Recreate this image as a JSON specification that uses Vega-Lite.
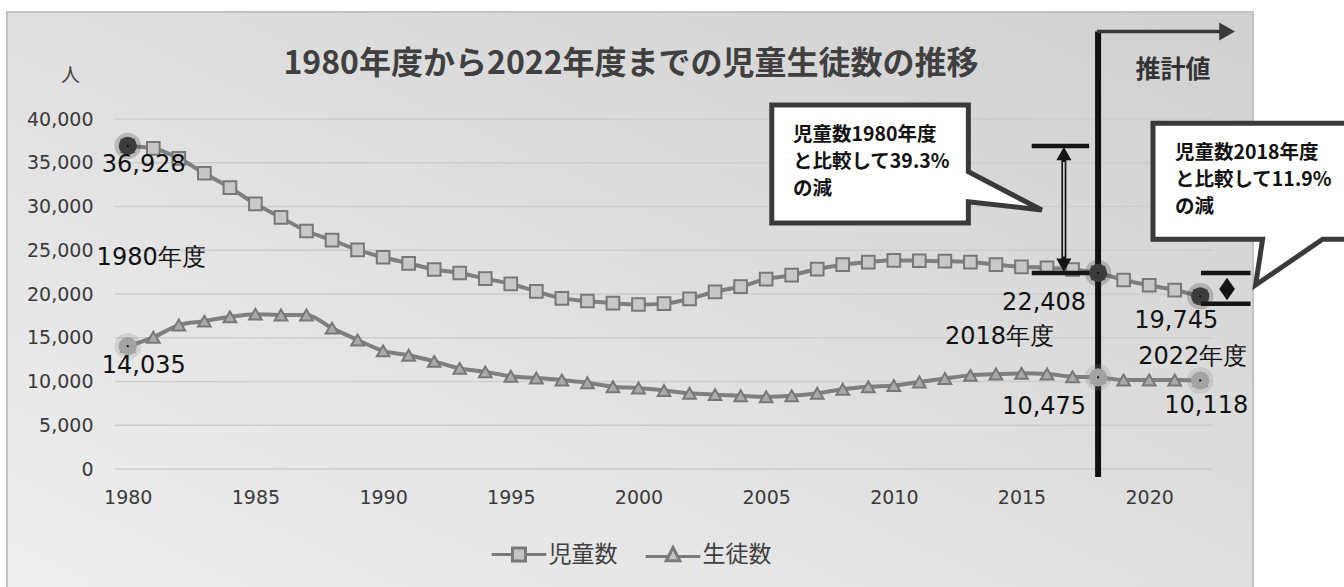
{
  "$schema": "https://vega.github.io/schema/vega-lite/v6.json",
  "autosize": {"type": "none"},
  "padding": {"left": 115, "top": 119, "right": 131, "bottom": 118},
  "width": 1098,
  "height": 350,
  "background": "#ffffff",
  "title": {
    "text": "1980年度から2022年度までの児童生徒数の推移",
    "font": "Noto Sans CJK JP",
    "fontSize": 32,
    "fontWeight": "bold",
    "color": "#404040",
    "anchor": "middle",
    "frame": "group",
    "dx": -33,
    "offset": -70
  },
  "datasets": {
    "counts": [
      {"series": "児童数", "year": 1980, "value": 36928},
      {"series": "児童数", "year": 1981, "value": 36650},
      {"series": "児童数", "year": 1982, "value": 35500},
      {"series": "児童数", "year": 1983, "value": 33800},
      {"series": "児童数", "year": 1984, "value": 32150},
      {"series": "児童数", "year": 1985, "value": 30300},
      {"series": "児童数", "year": 1986, "value": 28750},
      {"series": "児童数", "year": 1987, "value": 27200},
      {"series": "児童数", "year": 1988, "value": 26150},
      {"series": "児童数", "year": 1989, "value": 25050},
      {"series": "児童数", "year": 1990, "value": 24200},
      {"series": "児童数", "year": 1991, "value": 23500},
      {"series": "児童数", "year": 1992, "value": 22800},
      {"series": "児童数", "year": 1993, "value": 22400},
      {"series": "児童数", "year": 1994, "value": 21750},
      {"series": "児童数", "year": 1995, "value": 21150},
      {"series": "児童数", "year": 1996, "value": 20300},
      {"series": "児童数", "year": 1997, "value": 19500},
      {"series": "児童数", "year": 1998, "value": 19200},
      {"series": "児童数", "year": 1999, "value": 18950},
      {"series": "児童数", "year": 2000, "value": 18800},
      {"series": "児童数", "year": 2001, "value": 18900},
      {"series": "児童数", "year": 2002, "value": 19450},
      {"series": "児童数", "year": 2003, "value": 20250},
      {"series": "児童数", "year": 2004, "value": 20850},
      {"series": "児童数", "year": 2005, "value": 21700},
      {"series": "児童数", "year": 2006, "value": 22150},
      {"series": "児童数", "year": 2007, "value": 22850},
      {"series": "児童数", "year": 2008, "value": 23350},
      {"series": "児童数", "year": 2009, "value": 23650},
      {"series": "児童数", "year": 2010, "value": 23850},
      {"series": "児童数", "year": 2011, "value": 23800},
      {"series": "児童数", "year": 2012, "value": 23750},
      {"series": "児童数", "year": 2013, "value": 23650},
      {"series": "児童数", "year": 2014, "value": 23350},
      {"series": "児童数", "year": 2015, "value": 23100},
      {"series": "児童数", "year": 2016, "value": 23000},
      {"series": "児童数", "year": 2017, "value": 22800},
      {"series": "児童数", "year": 2018, "value": 22408},
      {"series": "児童数", "year": 2019, "value": 21600},
      {"series": "児童数", "year": 2020, "value": 21000},
      {"series": "児童数", "year": 2021, "value": 20450},
      {"series": "児童数", "year": 2022, "value": 19745},
      {"series": "生徒数", "year": 1980, "value": 14035},
      {"series": "生徒数", "year": 1981, "value": 15050},
      {"series": "生徒数", "year": 1982, "value": 16450},
      {"series": "生徒数", "year": 1983, "value": 16900},
      {"series": "生徒数", "year": 1984, "value": 17400},
      {"series": "生徒数", "year": 1985, "value": 17700},
      {"series": "生徒数", "year": 1986, "value": 17600},
      {"series": "生徒数", "year": 1987, "value": 17600},
      {"series": "生徒数", "year": 1988, "value": 16100},
      {"series": "生徒数", "year": 1989, "value": 14750},
      {"series": "生徒数", "year": 1990, "value": 13500},
      {"series": "生徒数", "year": 1991, "value": 13000},
      {"series": "生徒数", "year": 1992, "value": 12300},
      {"series": "生徒数", "year": 1993, "value": 11500},
      {"series": "生徒数", "year": 1994, "value": 11100},
      {"series": "生徒数", "year": 1995, "value": 10600},
      {"series": "生徒数", "year": 1996, "value": 10400},
      {"series": "生徒数", "year": 1997, "value": 10170},
      {"series": "生徒数", "year": 1998, "value": 9850},
      {"series": "生徒数", "year": 1999, "value": 9400},
      {"series": "生徒数", "year": 2000, "value": 9250},
      {"series": "生徒数", "year": 2001, "value": 8980},
      {"series": "生徒数", "year": 2002, "value": 8650},
      {"series": "生徒数", "year": 2003, "value": 8500},
      {"series": "生徒数", "year": 2004, "value": 8380},
      {"series": "生徒数", "year": 2005, "value": 8250},
      {"series": "生徒数", "year": 2006, "value": 8360},
      {"series": "生徒数", "year": 2007, "value": 8650},
      {"series": "生徒数", "year": 2008, "value": 9120},
      {"series": "生徒数", "year": 2009, "value": 9400},
      {"series": "生徒数", "year": 2010, "value": 9550},
      {"series": "生徒数", "year": 2011, "value": 9950},
      {"series": "生徒数", "year": 2012, "value": 10350},
      {"series": "生徒数", "year": 2013, "value": 10700},
      {"series": "生徒数", "year": 2014, "value": 10850},
      {"series": "生徒数", "year": 2015, "value": 10930},
      {"series": "生徒数", "year": 2016, "value": 10850},
      {"series": "生徒数", "year": 2017, "value": 10550},
      {"series": "生徒数", "year": 2018, "value": 10475},
      {"series": "生徒数", "year": 2019, "value": 10170},
      {"series": "生徒数", "year": 2020, "value": 10170},
      {"series": "生徒数", "year": 2021, "value": 10170},
      {"series": "生徒数", "year": 2022, "value": 10118}
    ],
    "levels": [
      {"value": 0}, {"value": 5000}, {"value": 10000}, {"value": 15000}, {"value": 20000},
      {"value": 25000}, {"value": 30000}, {"value": 35000}, {"value": 40000}
    ],
    "notes": [
      {"kind": "callout", "text": "児童数1980年度\nと比較して39.3%\nの減", "year": 2006.05, "value": 38171},
      {"kind": "callout", "text": "児童数2018年度\nと比較して11.9%\nの減", "year": 2021.01, "value": 36080},
      {"kind": "label", "text": "1980年度", "year": 1978.78, "value": 24114},
      {"kind": "label", "text": "2018年度", "year": 2012.0, "value": 15051},
      {"kind": "label", "text": "2022年度", "year": 2019.57, "value": 12766},
      {"kind": "est", "text": "推計値", "year": 2020.93, "value": 45600}
    ],
    "guides": [
      {"part": "frame", "year": 1975.27, "year2": 2024.07, "value": 52229, "value2": -14000},
      {"part": "divider", "year": 2018, "value": -900, "value2": 50000},
      {"part": "arrow", "year": 2017.95, "year2": 2022.85, "value": 50000},
      {"part": "head", "year": 2023.05, "value": 50000},
      {"part": "bar", "year": 2015.4, "year2": 2017.65, "value": 36928},
      {"part": "bar", "year": 2015.4, "year2": 2017.65, "value": 22408},
      {"part": "bar", "year": 2022.03, "year2": 2023.97, "value": 22408},
      {"part": "bar", "year": 2022.03, "year2": 2023.97, "value": 18900},
      {"part": "span", "year": 2016.66, "value": 23800, "value2": 35600},
      {"part": "gap", "year": 2016.66, "value": 24300, "value2": 35100},
      {"part": "up", "year": 2016.66, "value": 36050},
      {"part": "down", "year": 2016.66, "value": 23300},
      {"part": "diamond", "year": 2023.05, "value": 20570},
      {"part": "box1", "year": 2009.07, "value": 34857},
      {"part": "box2", "year": 2024.0, "value": 32880}
    ]
  },
  "layer": [
    {
      "data": {"name": "guides"},
      "transform": [{"filter": "datum.part === 'frame'"}],
      "mark": {
        "type": "rect",
        "fill": {
          "gradient": "linear",
          "x1": 0, "y1": 1, "x2": 1, "y2": 0,
          "stops": [
            {"offset": 0, "color": "#efefef"},
            {"offset": 1, "color": "#d0d0d0"}
          ]
        },
        "stroke": "#c2c2c2",
        "strokeWidth": 2
      },
      "encoding": {
        "x": {"field": "year", "type": "quantitative", "scale": {"domain": [1979.5, 2022.5], "nice": false, "zero": false}},
        "x2": {"field": "year2"},
        "y": {"field": "value", "type": "quantitative", "scale": {"domain": [0, 40000], "nice": false}},
        "y2": {"field": "value2"}
      }
    },
    {
      "data": {"name": "levels"},
      "mark": {"type": "rule", "color": "#cdcdcd", "strokeWidth": 1.5},
      "encoding": {
        "y": {"field": "value", "type": "quantitative", "scale": {"domain": [0, 40000], "nice": false}}
      }
    },
    {
      "data": {"name": "counts"},
      "encoding": {
        "x": {
          "field": "year",
          "type": "quantitative",
          "scale": {"domain": [1979.5, 2022.5], "nice": false, "zero": false},
          "axis": {
            "values": [1980, 1985, 1990, 1995, 2000, 2005, 2010, 2015, 2020],
            "format": "d",
            "title": null,
            "domain": false,
            "ticks": false,
            "grid": false,
            "labelPadding": 19,
            "zindex": 1
          }
        },
        "y": {
          "field": "value",
          "type": "quantitative",
          "scale": {"domain": [0, 40000], "nice": false},
          "axis": {
            "values": [0, 5000, 10000, 15000, 20000, 25000, 30000, 35000, 40000],
            "format": ",d",
            "title": "人",
            "titleAngle": 0,
            "titleX": -45,
            "titleY": -44,
            "titleAlign": "center",
            "titleBaseline": "middle",
            "titleFont": "Noto Sans CJK JP",
            "titleFontSize": 19,
            "titleFontWeight": "normal",
            "titleColor": "#404040",
            "domain": false,
            "ticks": false,
            "grid": false,
            "labelPadding": 22,
            "zindex": 1
          }
        }
      },
      "layer": [
        {
          "data": {"name": "guides"},
          "transform": [{"filter": "datum.part === 'divider'"}],
          "mark": {"type": "rule", "color": "#111111", "strokeWidth": 6},
          "encoding": {"y2": {"field": "value2"}}
        },
        {
          "data": {"name": "guides"},
          "transform": [{"filter": "datum.part === 'arrow'"}],
          "mark": {"type": "rule", "color": "#3a3a3a", "strokeWidth": 3.5},
          "encoding": {"x2": {"field": "year2"}}
        },
        {
          "data": {"name": "guides"},
          "transform": [{"filter": "datum.part === 'head'"}],
          "mark": {"type": "point", "shape": "triangle-right", "size": 330, "filled": true, "color": "#3a3a3a", "opacity": 1}
        },
        {
          "mark": {"type": "line", "interpolate": "monotone", "color": "#7f7f7f", "strokeWidth": 4},
          "encoding": {"detail": {"field": "series"}}
        },
        {
          "transform": [{"filter": "datum.series === '児童数'"}],
          "mark": {"type": "point", "shape": "square", "size": 160, "filled": true, "fill": "#c8c8c8", "stroke": "#787878", "strokeWidth": 2, "opacity": 1}
        },
        {
          "transform": [{"filter": "datum.series === '生徒数'"}],
          "mark": {"type": "point", "shape": "triangle-up", "size": 160, "filled": true, "fill": "#a9a9a9", "stroke": "#787878", "strokeWidth": 2, "opacity": 1}
        },
        {
          "transform": [{"filter": "datum.year === 1980 || datum.year === 2018 || datum.year === 2022"}],
          "mark": {"type": "point", "shape": "circle", "size": 700, "filled": true, "opacity": 0.22},
          "encoding": {
            "fill": {"condition": {"test": "datum.series === '児童数'", "value": "#2a2a2a"}, "value": "#8a8a8a"}
          }
        },
        {
          "transform": [{"filter": "datum.year === 1980 || datum.year === 2018 || datum.year === 2022"}],
          "mark": {"type": "point", "shape": "circle", "size": 330, "filled": true, "opacity": 1},
          "encoding": {
            "fill": {"condition": {"test": "datum.series === '児童数'", "value": "#3c3c3c"}, "value": "#a3a3a3"}
          }
        },
        {
          "transform": [{"filter": "datum.year === 1980 || datum.year === 2018 || datum.year === 2022"}],
          "mark": {"type": "point", "shape": "circle", "size": 5, "filled": true, "color": "#111111", "opacity": 1}
        },
        {
          "transform": [{"filter": "datum.year === 1980"}],
          "mark": {"type": "text", "font": "DejaVu Sans", "fontSize": 24, "color": "#111111", "align": "center", "baseline": "middle", "dx": 16, "dy": 19.5},
          "encoding": {"text": {"field": "value", "type": "quantitative", "format": ","}}
        },
        {
          "transform": [{"filter": "datum.year === 2018"}],
          "mark": {"type": "text", "font": "DejaVu Sans", "fontSize": 24, "color": "#111111", "align": "right", "baseline": "middle", "dx": -12, "dy": 29.6},
          "encoding": {"text": {"field": "value", "type": "quantitative", "format": ","}}
        },
        {
          "transform": [{"filter": "datum.year === 2022 && datum.series === '児童数'"}],
          "mark": {"type": "text", "font": "DejaVu Sans", "fontSize": 24, "color": "#111111", "align": "center", "baseline": "middle", "dx": -24, "dy": 24.5},
          "encoding": {"text": {"field": "value", "type": "quantitative", "format": ","}}
        },
        {
          "transform": [{"filter": "datum.year === 2022 && datum.series === '生徒数'"}],
          "mark": {"type": "text", "font": "DejaVu Sans", "fontSize": 24, "color": "#111111", "align": "center", "baseline": "middle", "dx": 6, "dy": 25.5},
          "encoding": {"text": {"field": "value", "type": "quantitative", "format": ","}}
        },
        {
          "data": {"name": "guides"},
          "transform": [{"filter": "datum.part === 'bar'"}],
          "mark": {"type": "rule", "color": "#151515", "strokeWidth": 4.5},
          "encoding": {"x2": {"field": "year2"}}
        },
        {
          "data": {"name": "guides"},
          "transform": [{"filter": "datum.part === 'span'"}],
          "mark": {"type": "rule", "color": "#151515", "strokeWidth": 5},
          "encoding": {"y2": {"field": "value2"}}
        },
        {
          "data": {"name": "guides"},
          "transform": [{"filter": "datum.part === 'gap'"}],
          "mark": {"type": "rule", "color": "#e6e6e6", "strokeWidth": 1.5},
          "encoding": {"y2": {"field": "value2"}}
        },
        {
          "data": {"name": "guides"},
          "transform": [{"filter": "datum.part === 'up'"}],
          "mark": {"type": "point", "shape": "triangle-up", "size": 230, "filled": true, "color": "#151515", "opacity": 1}
        },
        {
          "data": {"name": "guides"},
          "transform": [{"filter": "datum.part === 'down'"}],
          "mark": {"type": "point", "shape": "triangle-down", "size": 230, "filled": true, "color": "#151515", "opacity": 1}
        },
        {
          "data": {"name": "guides"},
          "transform": [{"filter": "datum.part === 'diamond'"}],
          "mark": {"type": "point", "shape": "M0,-1.5L1.05,0L0,1.5L-1.05,0Z", "size": 225, "filled": true, "color": "#151515", "opacity": 1}
        },
        {
          "data": {"name": "guides"},
          "transform": [{"filter": "datum.part === 'box1'"}],
          "mark": {
            "type": "point",
            "shape": "M-9.83,-5.9H9.83V0.77L17.17,4.6L9.83,3.77V5.9H-9.83Z",
            "size": 400,
            "filled": true,
            "fill": "#ffffff",
            "stroke": "#3a3a3a",
            "strokeWidth": 5,
            "strokeJoin": "miter",
            "opacity": 1
          }
        },
        {
          "data": {"name": "guides"},
          "transform": [{"filter": "datum.part === 'box2'"}],
          "mark": {
            "type": "point",
            "shape": "M-9.83,-5.8H9.83V5.8H7.13L0.43,10.37L1.13,5.8H-9.83Z",
            "size": 400,
            "filled": true,
            "fill": "#ffffff",
            "stroke": "#3a3a3a",
            "strokeWidth": 5,
            "strokeJoin": "miter",
            "opacity": 1
          }
        },
        {
          "data": {"name": "notes"},
          "transform": [{"filter": "datum.kind === 'callout'"}],
          "mark": {"type": "text", "font": "Noto Sans CJK JP", "fontSize": 19.5, "fontWeight": "bold", "color": "#111111", "align": "left", "baseline": "middle", "lineBreak": "\n", "lineHeight": 27},
          "encoding": {"text": {"field": "text"}}
        },
        {
          "data": {"name": "notes"},
          "transform": [{"filter": "datum.kind === 'label'"}],
          "mark": {"type": "text", "font": "DejaVu Sans", "fontSize": 24, "color": "#111111", "align": "left", "baseline": "middle"},
          "encoding": {"text": {"field": "text"}}
        },
        {
          "data": {"name": "notes"},
          "transform": [{"filter": "datum.kind === 'est'"}],
          "mark": {"type": "text", "font": "Noto Sans CJK JP", "fontSize": 25, "fontWeight": "bold", "color": "#333333", "align": "center", "baseline": "middle"},
          "encoding": {"text": {"field": "text"}}
        },
        {
          "transform": [{"filter": "datum.year === 1980"}],
          "mark": {"type": "point", "filled": true, "fill": "#c4c4c4", "stroke": "#7a7a7a", "strokeWidth": 3, "size": 0, "opacity": 1},
          "encoding": {
            "shape": {
              "field": "series",
              "type": "nominal",
              "scale": {
                "domain": ["児童数", "生徒数"],
                "range": [
                  "M-4.2,0H-1M1,0H4.2M-1,-1H1V1H-1Z",
                  "M-4.2,0.3H-0.9M0.9,0.3H4.2M0,-1.1L1.05,0.95H-1.05Z"
                ]
              },
              "legend": {
                "orient": "none",
                "legendX": 392.5,
                "legendY": 424,
                "direction": "horizontal",
                "title": null,
                "padding": 0,
                "symbolSize": 169,
                "symbolStrokeWidth": 3,
                "labelOffset": 18,
                "columnPadding": 22,
                "labelFont": "Noto Sans CJK JP",
                "labelFontSize": 23,
                "labelColor": "#404040"
              }
            }
          }
        }
      ]
    }
  ],
  "config": {
    "view": {"stroke": null},
    "axis": {
      "labelFont": "DejaVu Sans",
      "labelFontSize": 19,
      "labelColor": "#3a3a3a"
    }
  }
}
